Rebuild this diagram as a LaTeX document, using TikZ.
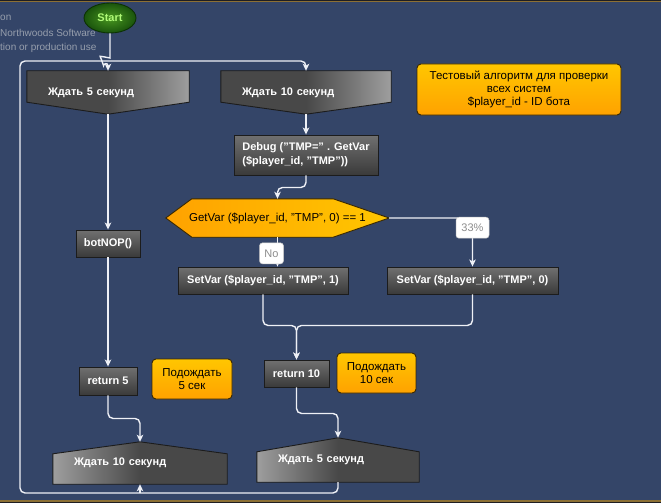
\documentclass[tikz,border=0pt]{standalone}
\usepackage{fontspec}
\setmainfont{Liberation Sans}
\usepackage{xcolor}
\usepackage{tikz}
\usetikzlibrary{shapes.geometric, arrows.meta, positioning, calc, backgrounds}
\definecolor{FlowBg}{RGB}{52,69,104}
\definecolor{FlowRim}{RGB}{30,30,34}
\definecolor{FlowGold}{RGB}{140,112,52}
\definecolor{FlowEdge}{RGB}{28,28,28}
\definecolor{FlowLink}{RGB}{238,240,246}
\definecolor{FlowGrayDark}{RGB}{72,72,72}
\definecolor{FlowGrayLight}{RGB}{158,158,158}
\definecolor{FlowGrayTop}{RGB}{112,112,112}
\definecolor{FlowGrayBot}{RGB}{58,58,58}
\definecolor{FlowOrangeTop}{RGB}{255,198,0}
\definecolor{FlowOrangeBot}{RGB}{255,162,0}
\definecolor{FlowNoteEdge}{RGB}{58,40,0}
\definecolor{FlowGreenIn}{RGB}{72,150,32}
\definecolor{FlowGreenOut}{RGB}{26,84,12}
\definecolor{FlowGreenEdge}{RGB}{12,50,4}
\definecolor{FlowStartText}{RGB}{176,250,120}
\definecolor{FlowMuted}{RGB}{150,158,172}
\definecolor{FlowTagText}{RGB}{140,140,140}
\definecolor{FlowTagEdge}{RGB}{200,200,200}

\tikzset{
  link/.style={draw=FlowLink, line width=1.4pt, rounded corners=5pt, -{Stealth[length=7pt, width=6.5pt, inset=1.8pt]}},
  waitbox/.style={inner xsep=21pt, inner ysep=0pt, text=white, align=left, font=\fontsize{11}{13}\selectfont\bfseries},
  waitshape/.style={draw=FlowEdge, line width=0.9pt},
  actbox/.style={draw=FlowEdge, line width=0.9pt, top color=FlowGrayTop, bottom color=FlowGrayBot, text=white, inner sep=0pt, minimum height=27pt, font=\fontsize{11}{14}\selectfont\bfseries},
  notebox/.style={draw=FlowNoteEdge, line width=0.9pt, rounded corners=4pt, top color=FlowOrangeTop, bottom color=FlowOrangeBot, text=black, inner sep=0pt, align=center, font=\fontsize{11.5}{13}\selectfont},
  tagbox/.style={fill=white, draw=FlowTagEdge, line width=0.5pt, rounded corners=3pt, text=FlowTagText, inner sep=0pt, minimum height=21pt, font=\fontsize{11}{13}\selectfont},
  watermark/.style={anchor=west, inner sep=0pt, text=FlowMuted, font=\fontsize{10}{12}\selectfont}
}

\begin{document}
\begin{tikzpicture}[x=1pt,y=-1pt]
  \path[use as bounding box] (0,0) rectangle (661,503);

  % watermark
  \node[watermark] (wmA) at (0,18) {on};
  \node[watermark] (wmB) at (0,33) {Northwoods Software};
  \node[watermark] (wmC) at (0,48) {tion or production use};

  % blocks
  \node[ellipse, draw=FlowGreenEdge, line width=0.9pt, inner color=FlowGreenIn, outer color=FlowGreenOut,
        minimum width=52pt, minimum height=30pt, inner sep=0pt, text=FlowStartText,
        font=\fontsize{11}{13}\selectfont\bfseries] (start) at (110,18) {Start};
  \node[waitbox, text width=120pt, minimum height=43pt] (waitA) at (108,92.5) {Ждать 5 секунд};
  \node[waitbox, text width=128pt, minimum height=43pt] (waitB) at (306,92.5) {Ждать 10 секунд};
  \node[actbox, minimum width=144pt, minimum height=40pt, align=left] (debug) at (306,155)
    {Debug ("TMP=" . GetVar\\(\$player\_id, "TMP"))};
  \node[inner sep=0pt, minimum width=223pt, minimum height=38pt, font=\fontsize{11.5}{13}\selectfont] (cond) at (277.5,218)
    {GetVar (\$player\_id, "TMP", 0) == 1};
  \node[actbox, minimum width=170pt] (setL) at (263,280.5) {SetVar (\$player\_id, "TMP", 1)};
  \node[actbox, minimum width=171pt] (setR) at (472.5,280.5) {SetVar (\$player\_id, "TMP", 0)};
  \node[actbox, minimum width=64pt] (botnop) at (108,243.5) {botNOP()};
  \node[actbox, minimum width=58pt, minimum height=28pt] (ret5) at (108,381) {return 5};
  \node[actbox, minimum width=65pt] (ret10) at (296.5,373.5) {return 10};
  \node[waitbox, text width=132pt, minimum height=42pt] (waitC) at (140,463) {Ждать 10 секунд};
  \node[waitbox, text width=120pt, minimum height=44pt] (waitD) at (338,460) {Ждать 5 секунд};

  % notes
  \node[notebox, minimum width=204pt, minimum height=51pt] (noteInfo) at (519,89.5)
    {Тестовый алгоритм для проверки\\всех систем\\\$player\_id - ID бота};
  \node[notebox, minimum width=80pt, minimum height=40pt] (noteFive) at (192,379) {Подождать\\5 сек};
  \node[notebox, minimum width=79pt, minimum height=40pt] (noteTen) at (376.5,373) {Подождать\\10 сек};

  \begin{scope}[on background layer]
    \fill[FlowBg] (0,0) rectangle (661,503);
    \fill[FlowRim] (0,0) rectangle (661,1);
    \fill[FlowGold] (0,1) rectangle (661,2.5);
    \fill[FlowGold] (0,499.5) rectangle (661,501.5);
    \fill[FlowRim] (0,501.5) rectangle (661,503);
    \path[waitshape, left color=FlowGrayDark, right color=FlowGrayLight, middle color=FlowGrayDark]
      (waitA.north west) -- (waitA.north east) -- ($(waitA.south east)+(0,-12)$) -- (waitA.south)
      -- ($(waitA.south west)+(0,-12)$) -- cycle;
    \path[waitshape, left color=FlowGrayDark, right color=FlowGrayLight, middle color=FlowGrayDark]
      (waitB.north west) -- (waitB.north east) -- ($(waitB.south east)+(0,-12)$) -- (waitB.south)
      -- ($(waitB.south west)+(0,-12)$) -- cycle;
    \path[waitshape, left color=FlowGrayLight, right color=FlowGrayDark, middle color=FlowGrayDark]
      (waitC.north) -- ($(waitC.north east)+(0,12)$) -- (waitC.south east) -- (waitC.south west)
      -- ($(waitC.north west)+(0,12)$) -- cycle;
    \path[waitshape, left color=FlowGrayLight, right color=FlowGrayDark, middle color=FlowGrayDark]
      (waitD.north) -- ($(waitD.north east)+(0,14)$) -- (waitD.south east) -- (waitD.south west)
      -- ($(waitD.north west)+(0,14)$) -- cycle;
    \path[draw=FlowNoteEdge, line width=0.9pt, left color=FlowOrangeBot, right color=FlowOrangeTop]
      (cond.west) -- ($(cond.north west)+(26,0)$) -- ($(cond.north east)+(-56,0)$) -- (cond.east)
      -- ($(cond.south east)+(-56,0)$) -- ($(cond.south west)+(26,0)$) -- cycle;
  \end{scope}

  % links
  \coordinate (hop) at (110,53);
  \coordinate (loopSW) at (20,493);
  \coordinate (loopNW) at (20,61);
  \draw[link] (start.south) -- (hop) .. controls (110,58) and (100,56) .. (102,61)
    .. controls (103,64) and (108,62) .. (waitA.north);
  \draw[link] (waitD.south) |- (loopSW) -- (loopNW) -| (waitB.north);
  \draw[link] (waitC.south |- loopSW) -- (waitC.south);
  \draw[link] (waitA.south) -- (botnop.north);
  \draw[link] (botnop.south) -- (ret5.north);
  \draw[link] (ret5.south) -- ++(0,23) -| (waitC.north);
  \draw[link] (waitB.south) -- (debug.north);
  \draw[link] (debug.south) -- ++(0,12) -| (cond.north);
  \draw[link] (cond.south) -- node[tagbox, minimum width=24pt, xshift=-6pt, pos=0.55] (tagNo) {No} (cond.south |- setL.north);
  \draw[link] (cond.east) -| node[tagbox, minimum width=33pt, pos=0.6] (tagPct) {33\%} (setR.north);
  \draw[link] (setL.south) -- ++(0,31) -| (ret10.north);
  \draw[link] (setR.south) -- ++(0,31) -| (ret10.north);
  \draw[link] (ret10.south) -- ++(0,26) -| (waitD.north);
\end{tikzpicture}
\end{document}
